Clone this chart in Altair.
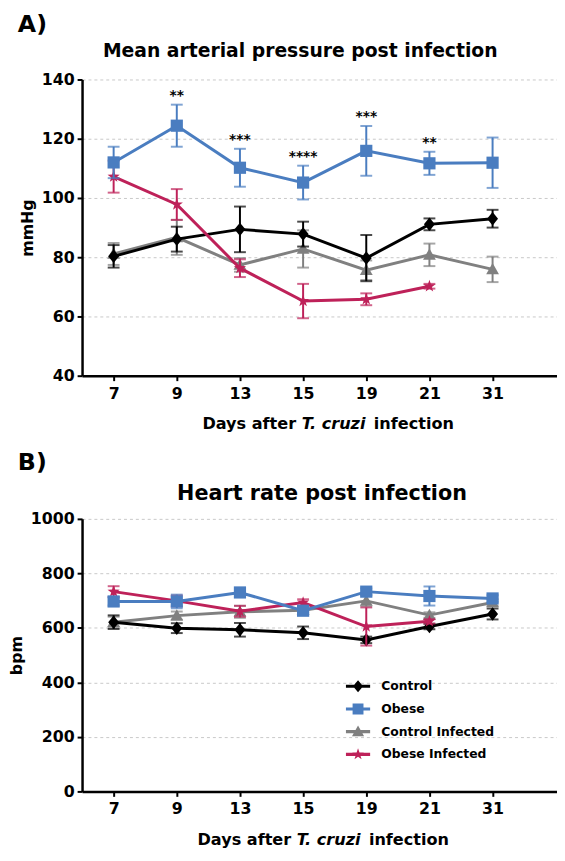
import json
import altair as alt
import pandas as pd

# ---------------- data ----------------
days = ["7", "9", "13", "15", "19", "21", "31"]
series = ["Control", "Obese", "Control Infected", "Obese Infected"]
colors = ["#000000", "#4A7DC0", "#808080", "#BE2159"]

# Mean arterial pressure (mmHg), mean and SEM
map_control = [80.3, 86.1, 89.4, 87.8, 79.7, 91.1, 93.0]
map_control_sem = [3.8, 4.2, 7.7, 4.2, 7.8, 2.0, 3.0]
map_obese = [112.0, 124.4, 110.2, 105.2, 115.9, 111.7, 111.9]
map_obese_sem = [5.3, 7.1, 6.4, 5.7, 8.4, 3.9, 8.5]
map_ctrl_inf = [81.1, 86.7, 77.4, 82.8, 75.6, 80.8, 75.9]
map_ctrl_inf_sem = [3.7, 5.9, 2.3, 6.3, 3.3, 3.8, 4.3]
map_ob_inf = [107.2, 97.8, 76.3, 65.2, 65.8, 70.2, None]
map_ob_inf_sem = [5.4, 5.2, 3.0, 5.8, 2.0, 0.8, None]
map_sig = ["", "**", "***", "****", "***", "**", ""]

# Heart rate (bpm), mean and SEM
hr_control = [621, 599, 593, 582, 556, 605, 651]
hr_control_sem = [25, 18, 25, 23, 12, 10, 20]
hr_obese = [697, 697, 730, 663, 733, 717, 708]
hr_obese_sem = [15, 25, 12, 15, 12, 35, 12]
hr_ctrl_inf = [621, 645, 659, 665, 699, 647, 693]
hr_ctrl_inf_sem = [20, 15, 22, 10, 20, 10, 12]
hr_ob_inf = [733, 699, 661, 693, 605, 624, None]
hr_ob_inf_sem = [20, 20, 20, 12, 70, 8, None]

# ---------------- styling ----------------
FONT = "DejaVu Sans"
marker_paths = {
    "Control": "M0,-1.05L0.85,0L0,1.05L-0.85,0Z",
    "Obese": "M-0.95,-0.95H0.95V0.95H-0.95Z",
    "Control Infected": "M0,-1L1,0.75H-1Z",
    "Obese Infected": "M0,-1L0.235,-0.324L0.951,-0.309L0.38,0.124L0.588,0.809L0,0.4L-0.588,0.809L-0.38,0.124L-0.951,-0.309L-0.235,-0.324Z",
}
BAR = "M-1,-0.13H1V0.13H-1Z"
legend_paths = [
    BAR + "M0,-0.5L0.42,0L0,0.5L-0.42,0Z",
    BAR + "M-0.45,-0.45H0.45V0.45H-0.45Z",
    BAR + "M0,-0.5L0.5,0.38H-0.5Z",
    BAR + "M0,-0.5L0.118,-0.162L0.476,-0.155L0.19,0.062L0.294,0.405L0,0.2L-0.294,0.405L-0.19,0.062L-0.476,-0.155L-0.118,-0.162Z",
]
draw_order = ["Control Infected", "Control", "Obese Infected", "Obese"]
color_of = dict(zip(series, colors))
day_label_expr = json.dumps(days) + "[datum.value]"

LEFT = -65  # x of the panel letters, relative to the plot area


def long_frame(groups, sig=None):
    rows = []
    for name, means, sems in groups:
        for i, (d, m, e) in enumerate(zip(days, means, sems)):
            if m is None:
                continue
            row = dict(idx=i, day=d, series=name, mean=m, lo=m - e, hi=m + e)
            if sig is not None and name == "Obese":
                row["sig"] = sig[i]
            rows.append(row)
    return pd.DataFrame(rows)


df_map = long_frame([
    ("Control", map_control, map_control_sem),
    ("Obese", map_obese, map_obese_sem),
    ("Control Infected", map_ctrl_inf, map_ctrl_inf_sem),
    ("Obese Infected", map_ob_inf, map_ob_inf_sem),
], sig=map_sig)
df_hr = long_frame([
    ("Control", hr_control, hr_control_sem),
    ("Obese", hr_obese, hr_obese_sem),
    ("Control Infected", hr_ctrl_inf, hr_ctrl_inf_sem),
    ("Obese Infected", hr_ob_inf, hr_ob_inf_sem),
])


def text_layer(txt, x, y, size, align="left", italic=False):
    return alt.Chart(pd.DataFrame({"t": [txt]})).mark_text(
        font=FONT, fontSize=size, fontWeight="bold", align=align,
        baseline="alphabetic", color="black",
        fontStyle="italic" if italic else "normal",
    ).encode(text="t:N", x=alt.value(x), y=alt.value(y))


def xtitle_layers(center, y, fs):
    w1, w2, sp = 5.859 * fs, 4.133 * fs, 0.348 * fs
    total = (5.859 + 0.348 + 4.133 + 0.348 + 4.981) * fs
    start = center - total / 2
    return [
        text_layer("Days after", start + w1, y, fs, align="right"),
        text_layer("T. cruzi", start + w1 + sp, y, fs, italic=True),
        text_layer("infection", start + w1 + sp + w2 + sp, y, fs),
    ]


def panel(df, ydomain, yvalues, ytitle, w, h, xmax, label, label_y, title, title_x, title_y,
          title_size, xtitle_x, xtitle_y, xlab_pad, stars=False, legend=False):
    x_axis = alt.Axis(title=None, values=list(range(len(days))), labelExpr=day_label_expr,
                      labelAngle=0, grid=False, labelPadding=xlab_pad, labelFlush=False,
                      labelOverlap=False)
    y_axis = alt.Axis(values=yvalues, title=ytitle, grid=True, titlePadding=6, labelPadding=3,
                      format="d")

    def xq():
        return alt.X("idx:Q", scale=alt.Scale(domain=[-0.5, xmax], nice=False, zero=False),
                     axis=x_axis)

    def yq(field):
        return alt.Y(f"{field}:Q", scale=alt.Scale(domain=ydomain, nice=False, zero=False),
                     axis=y_axis)

    layers = []
    for s in draw_order:
        base = alt.Chart(df).transform_filter(alt.datum.series == s)
        c = color_of[s]
        layers.append(base.mark_rule(color=c, strokeWidth=2).encode(x=xq(), y=yq("lo"), y2="hi:Q"))
        layers.append(base.mark_tick(color=c, size=12, thickness=2, orient="horizontal").encode(
            x=xq(), y=yq("lo")))
        layers.append(base.mark_tick(color=c, size=12, thickness=2, orient="horizontal").encode(
            x=xq(), y=yq("hi")))
        layers.append(base.mark_line(color=c, strokeWidth=3).encode(x=xq(), y=yq("mean")))
        layers.append(base.mark_point(shape=marker_paths[s], size=169, filled=True, color=c,
                                      opacity=1).encode(x=xq(), y=yq("mean")))
    if stars:
        layers.append(
            alt.Chart(df).transform_filter(alt.datum.series == "Obese").mark_text(
                font=FONT, fontSize=14, fontWeight="bold", baseline="alphabetic", dy=-5,
                color="black").encode(x=xq(), y=yq("hi"), text="sig:N"))
    if legend:
        layers.append(
            alt.Chart(pd.DataFrame({"series": series})).transform_filter("false").mark_point(
                filled=True, opacity=1, size=600).encode(
                color=alt.Color("series:N", scale=alt.Scale(domain=series, range=colors),
                                legend=alt.Legend(orient="none", legendX=267, legendY=157,
                                                  title=None, symbolSize=600,
                                                  labelFont=FONT, labelFontSize=12.5,
                                                  labelFontWeight="bold", labelColor="black",
                                                  labelOffset=11, rowPadding=4,
                                                  symbolStrokeWidth=0)),
                shape=alt.Shape("series:N", scale=alt.Scale(domain=series, range=legend_paths)),
            ))
    layers.append(text_layer(label, LEFT, label_y, 24))
    layers.append(text_layer(title, title_x, title_y, title_size, align="center"))
    layers += xtitle_layers(xtitle_x, xtitle_y, 16.3)
    return alt.layer(*layers).resolve_scale(color="independent", shape="independent").properties(
        width=w, height=h)


panel_a = panel(df_map, [40, 140], [40, 60, 80, 100, 120, 140], "mmHg", 481, 300, 7.02,
                "A)", -48, "Mean arterial pressure post infection", 221, -23, 19, 249, 354, 5,
                stars=True)
panel_b = panel(df_hr, [0, 1000], [0, 200, 400, 600, 800, 1000], "bpm", 481, 276, 7.02,
                "B)", -49, "Heart rate post infection", 243, -19, 21, 244, 330, 4,
                legend=True)

chart = alt.vconcat(panel_a, panel_b, spacing=19).properties(padding=0).configure_view(
    stroke=None
).configure_axis(
    domainColor="black", domainWidth=2.5, tickColor="black", tickWidth=2, tickSize=5,
    labelFont=FONT, labelFontWeight="bold", labelFontSize=16, labelColor="black",
    titleFont=FONT, titleFontWeight="bold", titleFontSize=16, titleColor="black",
    gridColor="#c8c8c8", gridDash=[3, 3], gridWidth=1,
).configure_axisX(grid=False)

chart.save("out.html", embed_options={"renderer": "svg", "actions": False})
